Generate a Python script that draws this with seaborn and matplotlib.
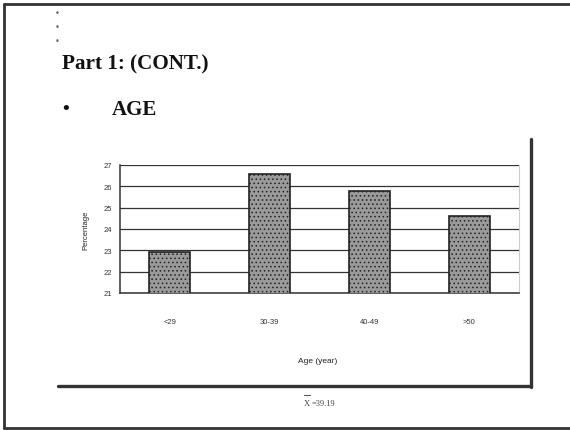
import matplotlib
matplotlib.use("Agg")
import matplotlib.pyplot as plt
from matplotlib.lines import Line2D
import seaborn as sns
import pandas as pd

age_groups = ["<29", "30-39", "40-49", ">50"]
percentages = [22.9, 26.6, 25.8, 24.6]
y_ticks = [21, 22, 23, 24, 25, 26, 27]
mean_age_label = "=39.19"

sns.set_theme(style="white")
plt.rcParams["font.family"] = ["Liberation Sans", "DejaVu Sans"]
plt.rcParams["hatch.color"] = "#777777"
plt.rcParams["hatch.linewidth"] = 0.6

W, H = 570, 431
fig = plt.figure(figsize=(W / 100, H / 100), dpi=100)
fig.patch.set_facecolor("white")


def fx(px):
    return px / W


def fy(py):
    return 1 - py / H


# slide border
for xs, ys, lw in [
    ([4, 570], [5, 5], 2.0),
    ([4, 4], [5, 429], 2.0),
    ([4, 570], [429, 429], 2.0),
    ([531, 531], [140, 388], 2.4),
    ([58, 531], [387, 387], 2.4),
]:
    fig.add_artist(Line2D([fx(x) for x in xs], [fy(y) for y in ys],
                          color="#333333", lw=lw, transform=fig.transFigure))

# decorative dots top-left
for y in [13, 27, 41]:
    fig.text(fx(57), fy(y), "•", fontsize=6, color="#666666",
             ha="center", va="center", family="DejaVu Sans")

fig.text(fx(62), fy(64), "Part 1: (CONT.)", fontsize=15.2, fontweight="bold",
         family="Liberation Serif", ha="left", va="center", color="#111111")
fig.text(fx(66), fy(110), "•", fontsize=14, fontweight="bold",
         family="Liberation Serif", ha="center", va="center", color="#111111")
fig.text(fx(112), fy(110), "AGE", fontsize=15, fontweight="bold",
         family="Liberation Serif", ha="left", va="center", color="#111111")

# bar chart
ax = fig.add_axes([fx(120), fy(294), fx(519) - fx(120), (294 - 166) / H])
df = pd.DataFrame({"age": age_groups, "pct": percentages})
sns.barplot(data=df, x="age", y="pct", ax=ax, color="#9a9a9a",
            edgecolor="#222222", linewidth=1.2, width=0.41, saturation=1,
            hatch="....", zorder=3)

ax.set_ylim(21, 27)
ax.set_yticks(y_ticks)
ax.set_yticklabels([str(t) for t in y_ticks], fontsize=5.5, color="#333333")
ax.set_xlim(-0.5, 3.5)
ax.set_xticks([0.5, 1.5, 2.5])
ax.set_xticklabels([])
ax.tick_params(axis="x", direction="out", length=3, width=1, color="#333333")
ax.tick_params(axis="y", direction="inout", length=6, width=1, color="#333333", pad=3)
for i, lab in enumerate(age_groups):
    ax.text(i, -0.22, lab, transform=ax.get_xaxis_transform(), ha="center",
            va="center", fontsize=5.5, color="#333333")
ax.grid(axis="y", color="#333333", lw=0.9, zorder=1)
ax.set_axisbelow(True)
ax.set_xlabel("")
ax.set_ylabel("Percentage", fontsize=5.5, color="#222222", labelpad=10)
ax.spines["left"].set_color("#333333")
ax.spines["left"].set_linewidth(1.1)
ax.spines["bottom"].set_color("#333333")
ax.spines["bottom"].set_linewidth(1.1)
ax.spines["top"].set_visible(False)
ax.spines["right"].set_color("#cccccc")
ax.spines["right"].set_linewidth(0.8)

fig.text(fx(318), fy(362), "Age (year)", fontsize=6, color="#222222",
         ha="center", va="center")

# mean annotation
fig.text(fx(307), fy(404), "X", fontsize=6, color="#444444",
         family="Liberation Serif", ha="center", va="center")
fig.add_artist(Line2D([fx(304), fx(310)], [fy(396), fy(396)], color="#555555",
                      lw=0.8, transform=fig.transFigure))
fig.text(fx(312), fy(404), mean_age_label, fontsize=6, color="#444444",
         family="Liberation Serif", ha="left", va="center")

fig.savefig("out.png", dpi=100)
